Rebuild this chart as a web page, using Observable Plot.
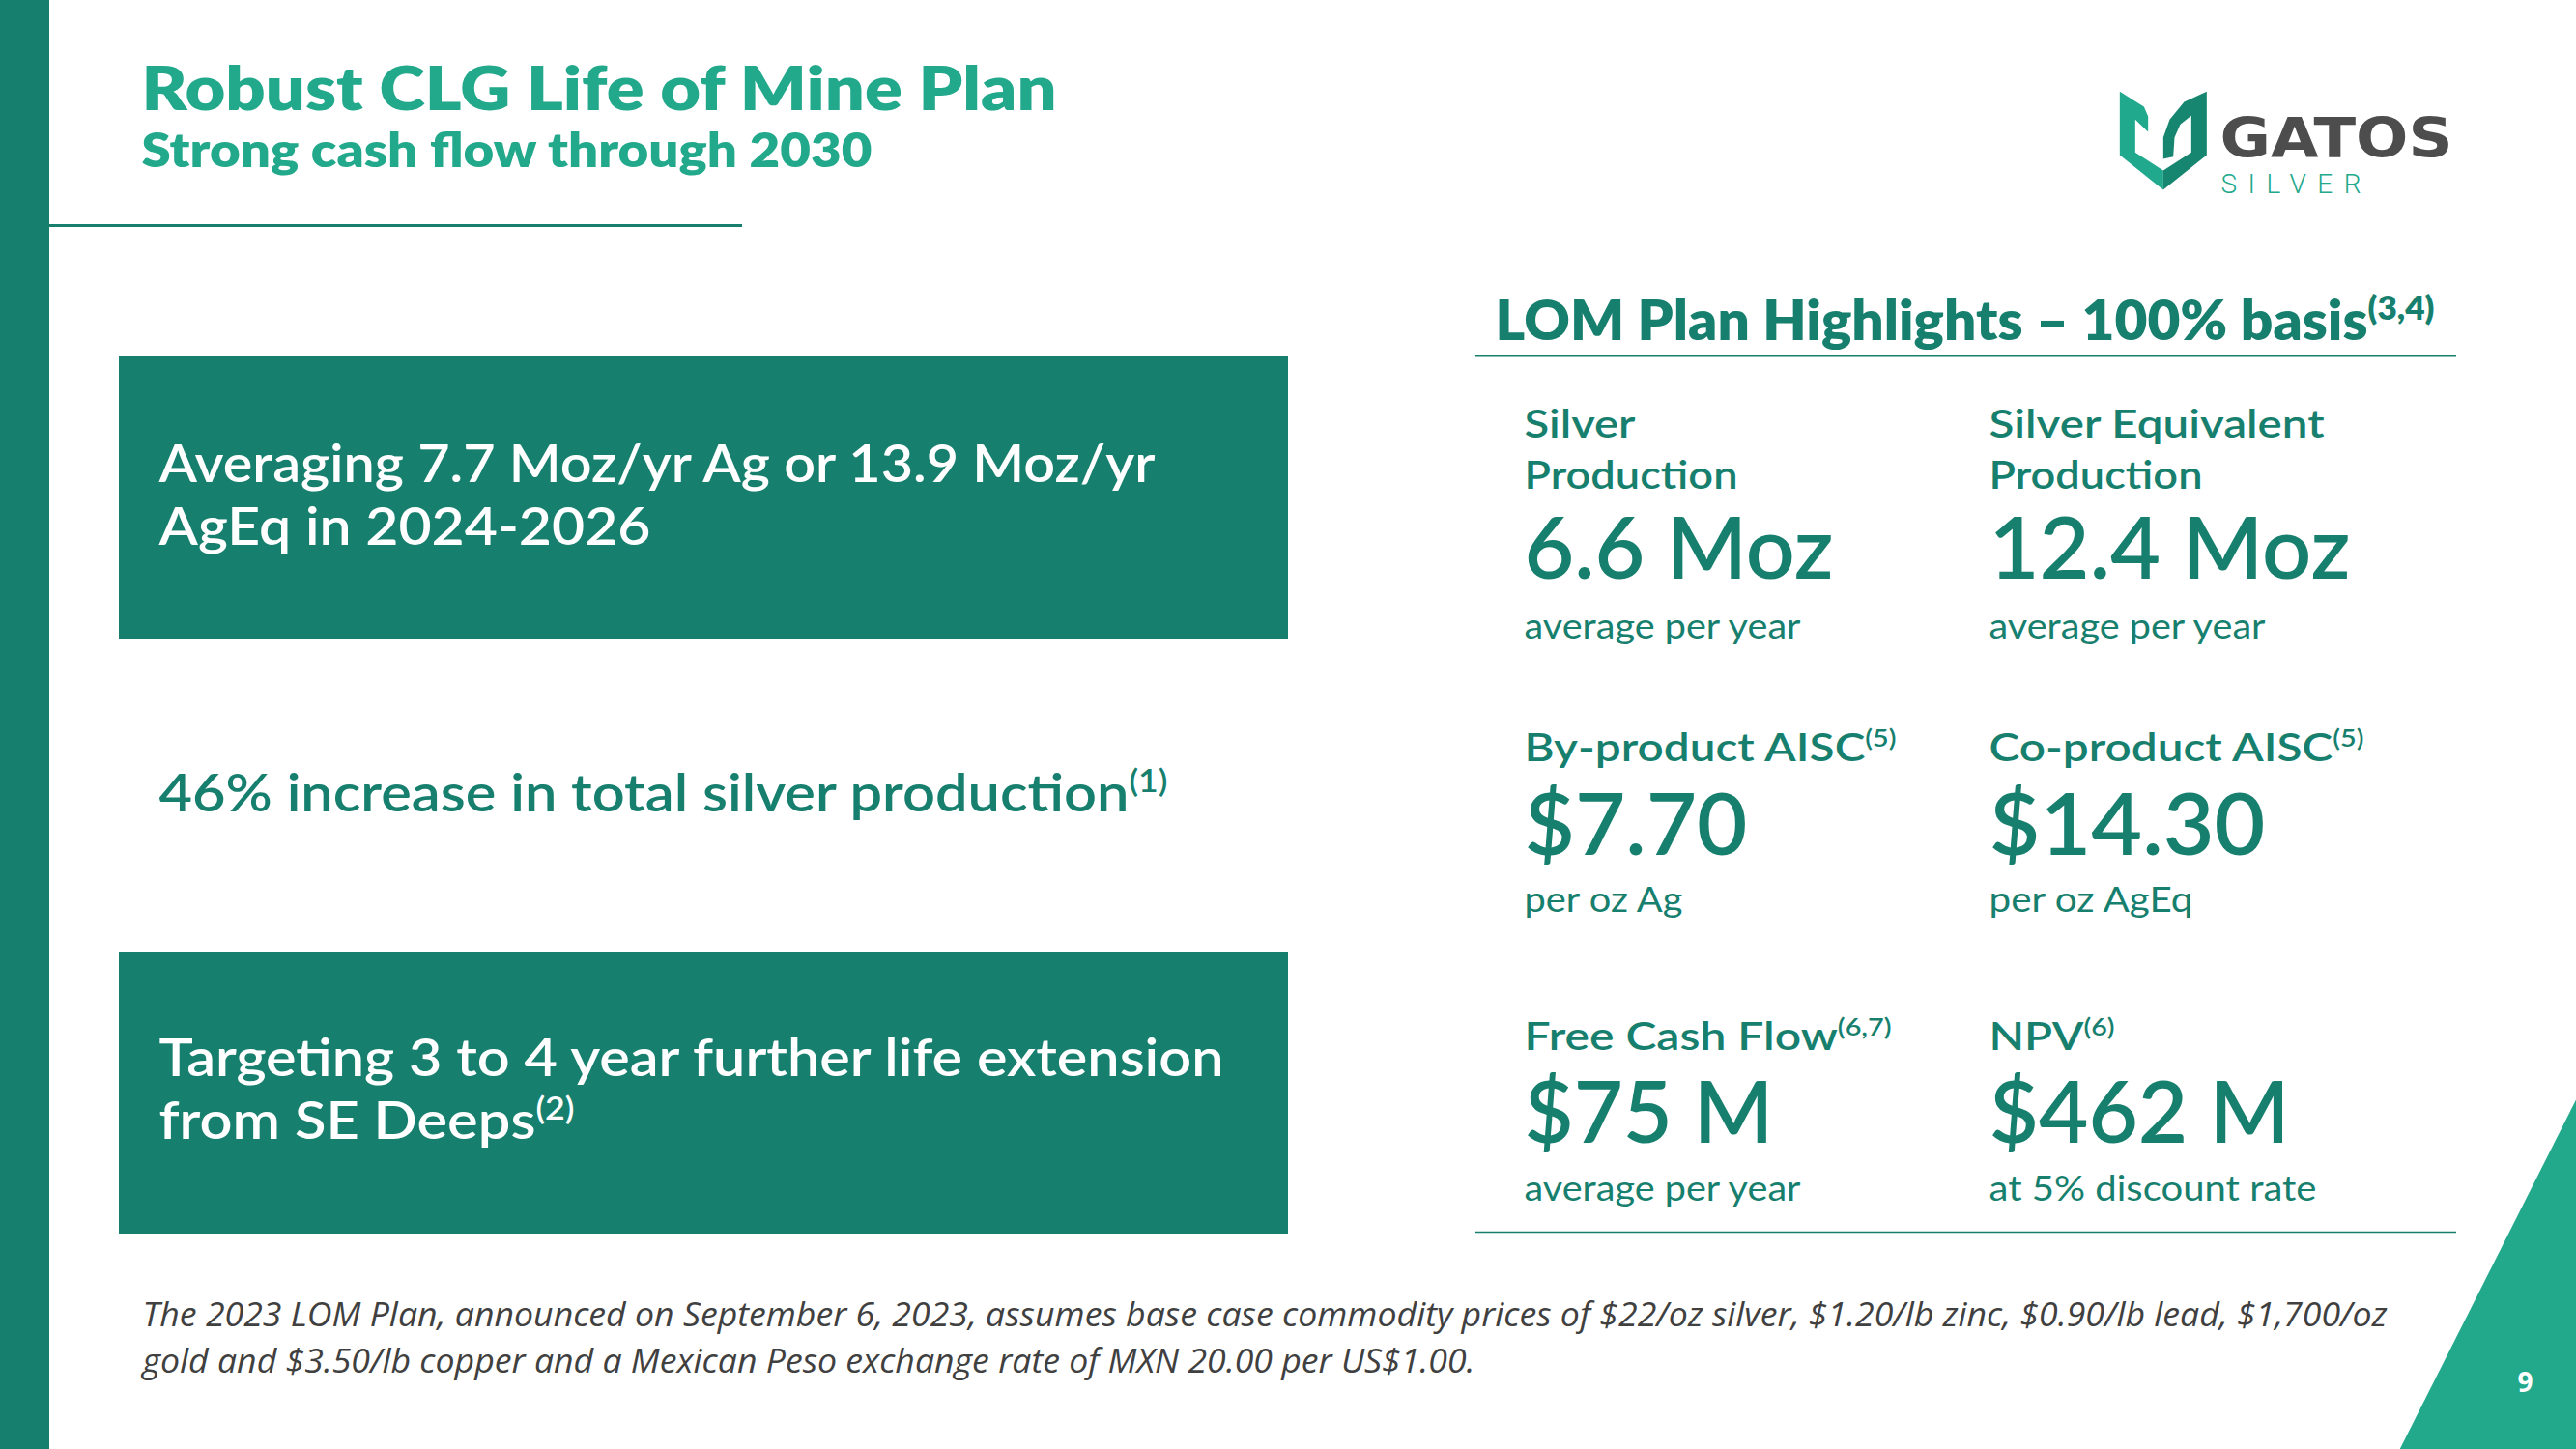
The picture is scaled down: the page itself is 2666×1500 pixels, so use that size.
<!DOCTYPE html>
<html><head><meta charset="utf-8">
<script src="https://cdn.jsdelivr.net/npm/d3@7"></script>
<script src="https://cdn.jsdelivr.net/npm/@observablehq/plot@0.6"></script>
<style>html,body{margin:0;padding:0;background:#fff;overflow:hidden} #chart svg{display:block;max-width:none}</style>
</head><body><div id="chart"></div>
<script>
// ================= DATA (content only) =================
const titleText = "Robust CLG Life of Mine Plan";
const subtitleText = "Strong cash flow through 2030";
const keyPointLines = [
  ["Averaging 7.7 Moz/yr Ag or 13.9 Moz/yr", "AgEq in 2024-2026"],
  ["46% increase in total silver production"],
  ["Targeting 3 to 4 year further life extension", "from SE Deeps"]
];
const keyPointNotes = ["", "1", "2"];
const keyPointBoxed = [true, false, true];
const panelTitle = "LOM Plan Highlights \u2013 100% basis";
const panelNote = "3,4";
const metricLabels = [["Silver", "Production"], ["Silver Equivalent", "Production"], ["By-product AISC"], ["Co-product AISC"], ["Free Cash Flow"], ["NPV"]];
const metricNotes = ["", "", "5", "5", "6,7", "6"];
const metricValues = ["6.6 Moz", "12.4 Moz", "$7.70", "$14.30", "$75 M", "$462 M"];
const metricUnits = ["average per year", "average per year", "per oz Ag", "per oz AgEq", "average per year", "at 5% discount rate"];
const footnoteLines = [
  "The 2023 LOM Plan, announced on September 6, 2023, assumes base case commodity prices of $22/oz silver, $1.20/lb zinc, $0.90/lb lead, $1,700/oz",
  "gold and $3.50/lb copper and a Mexican Peso exchange rate of MXN 20.00 per US$1.00."
];
const logoWord = "GATOS";
const logoSub = "SILVER";
const pageNumber = "9";

// ================= LAYOUT & STYLE =================
const W = 2666, H = 1500;
const C = {dark: "#177F6E", light: "#22A88B", grey: "#404040", logoGrey: "#4D4D4D", logoL: "#20A98C", logoR: "#168671"};
const SANS = "Lato, 'Noto Sans', sans-serif";
const OPEN = "'Open Sans', 'Noto Sans', sans-serif";
const L = {
  bar: [0, 51],
  titleX: 146, titleY: 113, subtitleY: 172,
  titleRule: {x1: 51, x2: 768, y: 233, w: 3},
  boxX: [123, 1333], boxH: 292, boxTop: [369, null, 985],
  kpX: 164, kpBaseline: [498, 839, 1113], kpLineGap: 65,
  panelX: 1547, panelY: 351,
  panelRuleX: [1527, 2542], panelRuleTop: 368, panelRuleBottom: 1275,
  colX: [1577, 2058],
  labelY: [452, 787, 1086], labelGap: 53,
  valueY: [598, 884, 1182], unitY: [660, 943, 1242],
  footX: 147, footY: [1372, 1420],
  pageX: 2613, pageY: 1440,
  tri: [[2483, 1500], [2666, 1137], [2666, 1500]],
  logoX: 2297, logoWordY: 162, logoSubY: 199
};
const STY = {
  title:   {fontSize: 63, fontWeight: 800, fill: C.light, fontFamily: SANS},
  subtitle:{fontSize: 50, fontWeight: 800, fill: C.light, fontFamily: SANS},
  boxText: {fontSize: 54, fontWeight: 600, fill: "white", fontFamily: SANS},
  plain:   {fontSize: 54, fontWeight: 600, fill: C.dark, fontFamily: SANS},
  head:    {fontSize: 56, fontWeight: 800, fill: C.dark, fontFamily: SANS},
  label:   {fontSize: 40, fontWeight: 600, fill: C.dark, fontFamily: SANS},
  value:   {fontSize: 88, fontWeight: 600, fill: C.dark, fontFamily: SANS},
  unit:    {fontSize: 36, fontWeight: 400, fill: C.dark, fontFamily: SANS},
  foot:    {fontSize: 34, fontWeight: 400, fill: C.grey, fontFamily: OPEN, fontStyle: "italic"},
  page:    {fontSize: 28, fontWeight: 700, fill: "white", fontFamily: OPEN, textAnchor: "middle"},
  logoW:   {fontSize: 57, fontWeight: 700, fill: C.logoGrey, fontFamily: "'DejaVu Sans', sans-serif"},
  logoS:   {fontSize: 28, fontWeight: 300, fill: C.light, fontFamily: "Roboto, sans-serif"}
};
// target rendered widths (px)
const FIT = new Map([
  ["title|" + titleText, 947], ["subtitle|" + subtitleText, 756],
  ["Averaging 7.7 Moz/yr Ag or 13.9 Moz/yr", 1031], ["AgEq in 2024-2026", 509],
  ["46% increase in total silver production^1", 1044],
  ["Targeting 3 to 4 year further life extension", 1102], ["from SE Deeps^2", 430],
  [panelTitle + "^" + panelNote, 972],
  ["Silver", 115], ["Production", 221], ["Silver Equivalent", 347],
  ["By-product AISC^5", 385], ["Co-product AISC^5", 388], ["Free Cash Flow^6,7", 380], ["NPV^6", 130],
  ["6.6 Moz", 320], ["12.4 Moz", 374], ["$7.70", 231], ["$14.30", 286], ["$75 M", 258], ["$462 M", 311],
  ["average per year", 286], ["per oz Ag", 164], ["per oz AgEq", 211], ["at 5% discount rate", 339],
  [footnoteLines[0], 2323], [footnoteLines[1], 1379],
  [logoWord, 241], [logoSub, 145]
]);
const SPACING_ONLY = new Set([logoSub]);

// logo shield pieces (relative design grid, mapped into the logo box)
const shieldL = [[130,103],[205,150],[218,180],[218,228],[178,190],[178,292],[265,348],[265,408],[130,300]];
const shieldR = [[400,103],[400,300],[265,408],[265,348],[352,292],[352,178],[318,205],[300,245],[296,305],[265,312],[265,245],[285,190],[330,135]];
const toLogo = ([gx, gy]) => ({x: 2150 + gx / 3, y: 60 + gy / 3});

// ================= BUILD ITEMS =================
const items = [];
const add = (g, t, x, y, note) => items.push({g, t: note ? t + "^" + note : t, x, y});
add("title", titleText, L.titleX, L.titleY);
add("subtitle", subtitleText, L.titleX, L.subtitleY);
keyPointLines.forEach((lines, i) => {
  lines.forEach((ln, j) => {
    const last = j === lines.length - 1;
    add(keyPointBoxed[i] ? "boxText" : "plain", ln, L.kpX, L.kpBaseline[i] + j * L.kpLineGap, last ? keyPointNotes[i] : "");
  });
});
add("head", panelTitle, L.panelX, L.panelY, panelNote);
metricLabels.forEach((lines, i) => {
  const row = Math.floor(i / 2), col = i % 2;
  lines.forEach((ln, j) => add("label", ln, L.colX[col], L.labelY[row] + j * L.labelGap, j === lines.length - 1 ? metricNotes[i] : ""));
  add("value", metricValues[i], L.colX[col], L.valueY[row]);
  add("unit", metricUnits[i], L.colX[col], L.unitY[row]);
});
footnoteLines.forEach((ln, j) => add("foot", ln, L.footX, L.footY[j]));
add("page", pageNumber, L.pageX, L.pageY);
add("logoW", logoWord, L.logoX, L.logoWordY);
add("logoS", logoSub, L.logoX + 1, L.logoSubY);

const boxes = keyPointBoxed.map((b, i) => b ? {x1: L.boxX[0], x2: L.boxX[1], y1: L.boxTop[i], y2: L.boxTop[i] + L.boxH} : null).filter(Boolean);
const rules = [
  {x1: L.titleRule.x1, x2: L.titleRule.x2, y: L.titleRule.y, w: L.titleRule.w},
  {x1: L.panelRuleX[0], x2: L.panelRuleX[1], y: L.panelRuleTop, w: 2},
  {x1: L.panelRuleX[0], x2: L.panelRuleX[1], y: L.panelRuleBottom, w: 1.5}
];
const tri = L.tri.map(([x, y]) => ({x, y}));
const polyL = shieldL.map(toLogo), polyR = shieldR.map(toLogo);

const textMarks = Object.keys(STY).map(g => Plot.text(items.filter(d => d.g === g), {
  x: "x", y: "y", text: "t", textAnchor: "start", lineAnchor: "bottom", ...STY[g]
}));

const svg = Plot.plot({
  width: W, height: H, margin: 0,
  x: {type: "identity", axis: null},
  y: {type: "identity", axis: null},
  style: {background: "white", overflow: "visible"},
  marks: [
    Plot.rect([{x1: L.bar[0], x2: L.bar[1], y1: 0, y2: H}], {x1: "x1", x2: "x2", y1: "y1", y2: "y2", fill: C.dark}),
    Plot.rect(boxes, {x1: "x1", x2: "x2", y1: "y1", y2: "y2", fill: C.dark}),
    ...rules.map(r => Plot.ruleY([r], {y: "y", x1: "x1", x2: "x2", stroke: C.dark, strokeWidth: r.w})),
    Plot.line(tri, {x: "x", y: "y", fill: C.light, stroke: "none", curve: "linear-closed"}),
    Plot.line(polyL, {x: "x", y: "y", fill: C.logoL, stroke: "none", curve: "linear-closed"}),
    Plot.line(polyR, {x: "x", y: "y", fill: C.logoR, stroke: "none", curve: "linear-closed"}),
    ...textMarks
  ]
});

// superscript notes and width fitting
const itemGroup = new Map(items.map(d => [d.t, d.g]));
d3.select(svg).selectAll("text").each(function () {
  const el = d3.select(this);
  const s = this.textContent;
  const g = itemGroup.get(s);
  let w = FIT.get(s);
  if (w == null && g) w = FIT.get(g + "|" + s);
  if (s.includes("^")) {
    const [main, note] = s.split("^");
    el.text(main);
    el.append("tspan").attr("font-size", "0.6em").attr("dy", "-0.6em").text("(" + note + ")");
  }
  if (w) el.attr("textLength", w).attr("lengthAdjust", SPACING_ONLY.has(s) ? "spacing" : "spacingAndGlyphs");
});
document.getElementById("chart").append(svg);
</script>
</body></html>
